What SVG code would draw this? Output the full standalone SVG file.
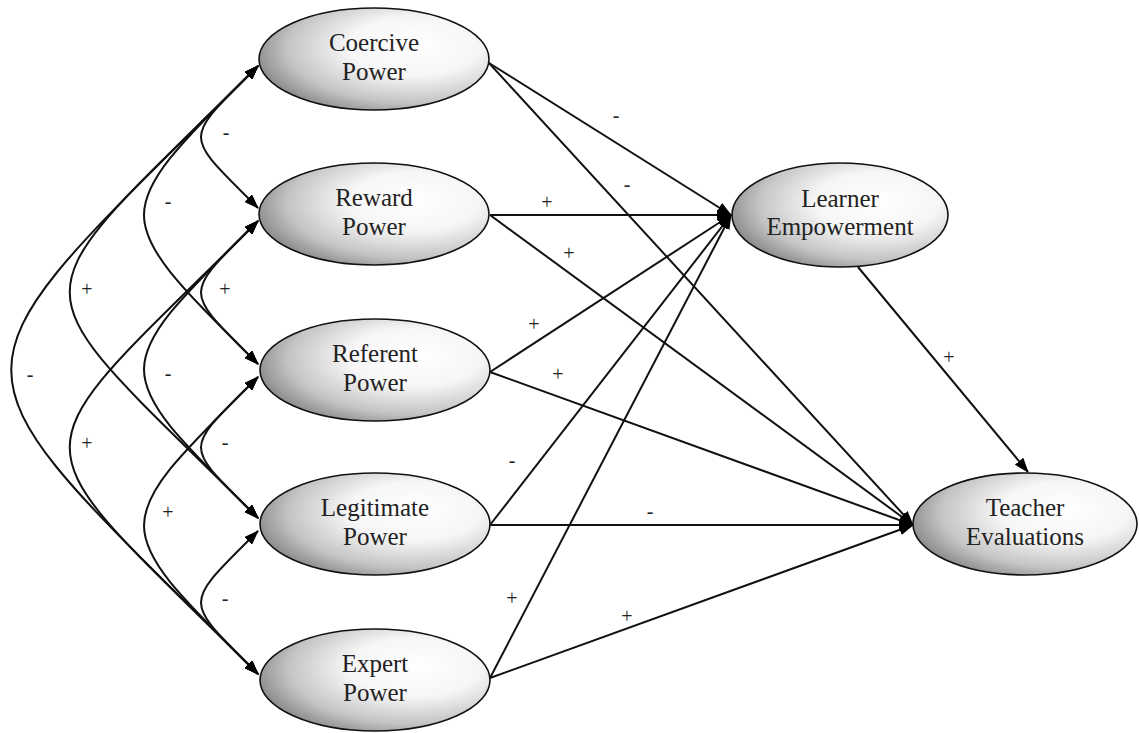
<svg xmlns="http://www.w3.org/2000/svg" width="1139" height="733" viewBox="0 0 1139 733">
<style>
.node{fill:url(#g);stroke:#111;stroke-width:1.6}
.nt{font-family:"Liberation Serif","Times New Roman",serif;font-size:25px;fill:#222;text-anchor:middle}
.c{fill:none;stroke:#111;stroke-width:2}
.lb{font-family:"Liberation Serif","Times New Roman",serif;font-size:20px;fill:#222;text-anchor:middle}
</style>
<defs>
<radialGradient id="g" cx="0.66" cy="0.4" r="0.72" fx="0.68" fy="0.36">
<stop offset="0" stop-color="#ffffff"/>
<stop offset="0.4" stop-color="#f6f6f6"/>
<stop offset="0.75" stop-color="#c4c4c4"/>
<stop offset="1" stop-color="#808080"/>
</radialGradient>
<marker id="a" markerUnits="userSpaceOnUse" markerWidth="15" markerHeight="11" refX="14" refY="5.5" orient="auto-start-reverse">
<path d="M0,0 L15,5.5 L0,11 z" fill="#000"/>
</marker>
</defs>
<rect width="1139" height="733" fill="#fff"/>
<g id="connectors">
<path class="c" marker-start="url(#a)" marker-end="url(#a)" d="M258,66 C182,142 182,132 258,208"/>
<path class="c" marker-start="url(#a)" marker-end="url(#a)" d="M258,66 C106,218 106,212 258,364"/>
<path class="c" marker-start="url(#a)" marker-end="url(#a)" d="M258,66 C7,317 7,267 258,518"/>
<path class="c" marker-start="url(#a)" marker-end="url(#a)" d="M258,66 C-71,395 -71,345 258,674"/>
<path class="c" marker-start="url(#a)" marker-end="url(#a)" d="M258,221 C182,297 182,288 258,364"/>
<path class="c" marker-start="url(#a)" marker-end="url(#a)" d="M258,221 C106,373 106,366 258,518"/>
<path class="c" marker-start="url(#a)" marker-end="url(#a)" d="M258,221 C7,472 7,423 258,674"/>
<path class="c" marker-start="url(#a)" marker-end="url(#a)" d="M258,377 C182,453 182,442 258,518"/>
<path class="c" marker-start="url(#a)" marker-end="url(#a)" d="M258,377 C106,529 106,522 258,674"/>
<path class="c" marker-start="url(#a)" marker-end="url(#a)" d="M258,531 C182,607 182,598 258,674"/>
<path class="c" marker-end="url(#a)" d="M489,63 L731,215"/>
<path class="c" marker-end="url(#a)" d="M489,63 L913,525"/>
<path class="c" marker-end="url(#a)" d="M490,215 L731,215"/>
<path class="c" marker-end="url(#a)" d="M490,215 L913,525"/>
<path class="c" marker-end="url(#a)" d="M490,372 L731,215"/>
<path class="c" marker-end="url(#a)" d="M490,372 L913,525"/>
<path class="c" marker-end="url(#a)" d="M490,525 L731,215"/>
<path class="c" marker-end="url(#a)" d="M490,525 L913,525"/>
<path class="c" marker-end="url(#a)" d="M490,678 L731,215"/>
<path class="c" marker-end="url(#a)" d="M490,678 L913,525"/>
<path class="c" marker-end="url(#a)" d="M858,267 L1028,472"/>
</g>
<g id="labels">
<text class="lb" x="226" y="139">-</text>
<text class="lb" x="168" y="208">-</text>
<text class="lb" x="87" y="296">+</text>
<text class="lb" x="30" y="381">-</text>
<text class="lb" x="225" y="296">+</text>
<text class="lb" x="168" y="380">-</text>
<text class="lb" x="87" y="450">+</text>
<text class="lb" x="225" y="449">-</text>
<text class="lb" x="168" y="519">+</text>
<text class="lb" x="225" y="605">-</text>
<text class="lb" x="616" y="122">-</text>
<text class="lb" x="627" y="191">-</text>
<text class="lb" x="547" y="209">+</text>
<text class="lb" x="569" y="260">+</text>
<text class="lb" x="534" y="331">+</text>
<text class="lb" x="558" y="381">+</text>
<text class="lb" x="512" y="467">-</text>
<text class="lb" x="650" y="518">-</text>
<text class="lb" x="512" y="605">+</text>
<text class="lb" x="627" y="623">+</text>
<text class="lb" x="949" y="364">+</text>
</g>
<g id="coercive"><ellipse class="node" cx="374" cy="59" rx="115" ry="51"/><text class="nt" x="374" y="51">Coercive</text><text class="nt" x="374" y="80">Power</text></g>
<g id="reward"><ellipse class="node" cx="374" cy="214" rx="115" ry="51"/><text class="nt" x="374" y="206">Reward</text><text class="nt" x="374" y="235">Power</text></g>
<g id="referent"><ellipse class="node" cx="375" cy="370" rx="115" ry="51"/><text class="nt" x="375" y="362">Referent</text><text class="nt" x="375" y="391">Power</text></g>
<g id="legitimate"><ellipse class="node" cx="375" cy="524" rx="115" ry="51"/><text class="nt" x="375" y="516">Legitimate</text><text class="nt" x="375" y="545">Power</text></g>
<g id="expert"><ellipse class="node" cx="375" cy="680" rx="115" ry="51"/><text class="nt" x="375" y="672">Expert</text><text class="nt" x="375" y="701">Power</text></g>
<g id="learner"><ellipse class="node" cx="840" cy="215" rx="108" ry="52"/><text class="nt" x="840" y="207">Learner</text><text class="nt" x="840" y="235">Empowerment</text></g>
<g id="teacher"><ellipse class="node" cx="1025" cy="524" rx="112" ry="51"/><text class="nt" x="1025" y="516">Teacher</text><text class="nt" x="1025" y="545">Evaluations</text></g>
</svg>
